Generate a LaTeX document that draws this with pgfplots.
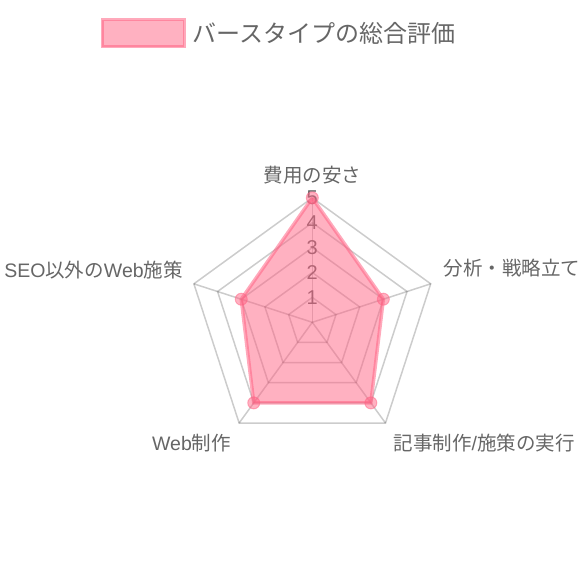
\documentclass[border=0pt]{standalone}
\usepackage{pgfplots}
\pgfplotsset{compat=1.18}
\usepgfplotslibrary{polar}
\usepackage{fontspec}
\setmainfont{Liberation Sans}
\newfontfamily\cjk{Noto Sans CJK JP}

\definecolor{pinkbase}{RGB}{255,99,132}
\definecolor{txt}{RGB}{102,102,102}

\tikzset{
    gridln/.style={black, opacity=0.2, line width=1.5pt},
    scalelbl/.style={text=txt, inner sep=0pt, font=\fontsize{20}{24}\selectfont},
    ptlbl/.style={text=txt, inner sep=0pt, font=\fontsize{19.5}{23}\selectfont},
}

\begin{document}
\begin{tikzpicture}
\path[use as bounding box] (0pt,0pt) rectangle (580pt,-580pt);
\begin{polaraxis}[
    at={(312.3pt,-322.3pt)}, anchor=center,
    scale only axis,
    width=249pt, height=249pt,
    xmin=0, xmax=360, ymin=0, ymax=5,
    hide axis, clip=false,
    legend style={
        at={(axis cs:96.6,11.68)}, anchor=center,
        draw=none, fill=none,
        font=\cjk\fontsize{24}{28}\selectfont,
        text=txt,
        nodes={inner sep=1pt},
        /tikz/every odd column/.append style={column sep=6pt},
    },
    legend image code/.code={
        \draw[fill=pinkbase, fill opacity=0.5, draw=pinkbase, draw opacity=0.55, line width=3pt]
            (0pt,-13.5pt) rectangle (82pt,13.5pt);
    },
]
% pentagon grid and spokes
\addplot[gridln, no markers, forget plot] coordinates {(90,1)(18,1)(-54,1)(-126,1)(162,1)(90,1)};
\addplot[gridln, no markers, forget plot] coordinates {(90,2)(18,2)(-54,2)(-126,2)(162,2)(90,2)};
\addplot[gridln, no markers, forget plot] coordinates {(90,3)(18,3)(-54,3)(-126,3)(162,3)(90,3)};
\addplot[gridln, no markers, forget plot] coordinates {(90,4)(18,4)(-54,4)(-126,4)(162,4)(90,4)};
\addplot[gridln, no markers, forget plot] coordinates {(90,5)(18,5)(-54,5)(-126,5)(162,5)(90,5)};
\addplot[gridln, no markers, forget plot] coordinates {(90,0)(90,5)};
\addplot[gridln, no markers, forget plot] coordinates {(18,0)(18,5)};
\addplot[gridln, no markers, forget plot] coordinates {(-54,0)(-54,5)};
\addplot[gridln, no markers, forget plot] coordinates {(-126,0)(-126,5)};
\addplot[gridln, no markers, forget plot] coordinates {(162,0)(162,5)};

% scale labels
\node[scalelbl] at (axis cs:90,1) {1};
\node[scalelbl] at (axis cs:90,2) {2};
\node[scalelbl] at (axis cs:90,3) {3};
\node[scalelbl] at (axis cs:90,4) {4};
\node[scalelbl] at (axis cs:90,5) {5};

% point labels
\node[ptlbl, anchor=center, yshift=23pt] at (axis cs:90,5) {\cjk 費用の安さ};
\node[ptlbl, anchor=west, xshift=12.6pt, yshift=15.5pt] at (axis cs:18,5) {\cjk 分析・戦略立て};
\node[ptlbl, anchor=west, xshift=8pt, yshift=-20pt] at (axis cs:-54,5) {{\cjk 記事制作}/{\cjk 施策の実行}};
\node[ptlbl, anchor=east, xshift=-8pt, yshift=-20pt] at (axis cs:-126,5) {Web{\cjk 制作}};
\node[ptlbl, anchor=east, xshift=-11pt, yshift=13.5pt] at (axis cs:162,5) {SEO{\cjk 以外の}Web{\cjk 施策}};

% data
\addplot[
    draw=pinkbase, draw opacity=0.55, line width=3.5pt,
    fill=pinkbase, fill opacity=0.5,
    mark=*, mark size=6pt, mark indices={1,2,3,4,5},
    mark options={fill=pinkbase, fill opacity=0.5, draw opacity=0.5, line width=1pt},
] coordinates {(90,5) (18,3) (-54,4) (-126,4) (162,3) (90,5)};
\addlegendentry{バースタイプの総合評価}
\end{polaraxis}
\end{tikzpicture}
\end{document}
